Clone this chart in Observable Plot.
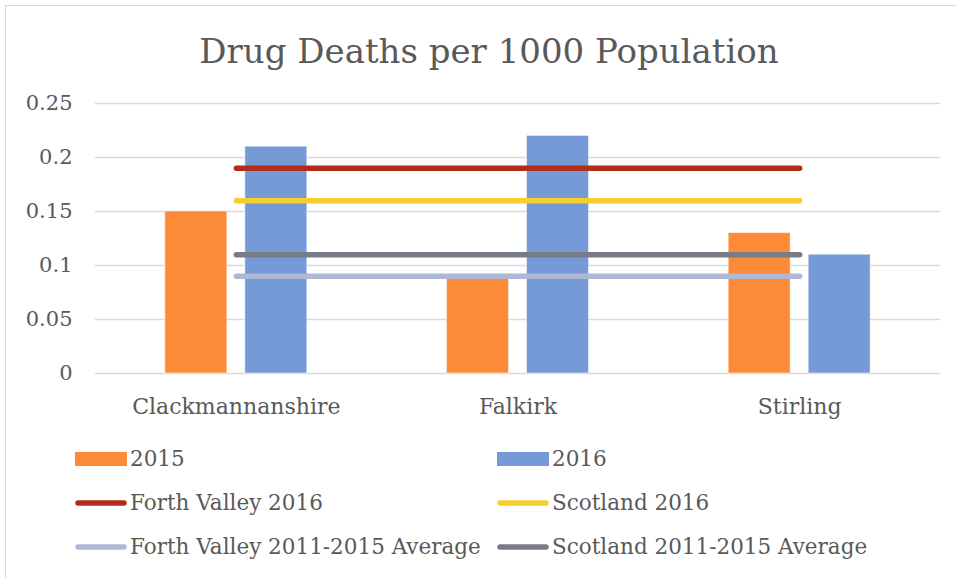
<!DOCTYPE html>
<html>
<head>
<meta charset="utf-8">
<script src="https://cdn.jsdelivr.net/npm/d3@7"></script>
<script src="https://cdn.jsdelivr.net/npm/@observablehq/plot@0.6"></script>
<style>
  body { margin: 0; background: #fff; }
  #chart { position: relative; width: 956px; height: 578px; overflow: hidden;
           font-family: "DejaVu Serif", serif; color: #595959; background: #fff; }
  #frame { position: absolute; left: 5px; top: 5px; width: 1000px; height: 1000px;
           border: 1px solid #d9d9d9; }
  #title { position: absolute; left: 0; width: 978px; top: 34px; line-height: 34px;
           text-align: center; font-size: 34px; }
  #plot { position: absolute; left: 0; top: 80px; }
  .legend-item { position: absolute; display: flex; align-items: center;
                 height: 24px; line-height: 24px; font-size: 21.5px; white-space: nowrap; }
  .legend-item svg { margin-right: 3px; }
</style>
</head>
<body>
<div id="chart">
  <div id="frame"></div>
  <div id="title">Drug Deaths per 1000 Population</div>
  <div id="plot"></div>
  <div id="legend"></div>
</div>
<script>
// Council areas and drug deaths per 1000 population
const categories = ["Clackmannanshire", "Falkirk", "Stirling"];
const years = ["2015", "2016"];
const deaths2015 = [0.15, 0.09, 0.13];
const deaths2016 = [0.21, 0.22, 0.11];

// Comparison benchmarks drawn as horizontal lines
const benchmarkNames = [
  "Forth Valley 2016",
  "Scotland 2016",
  "Forth Valley 2011-2015 Average",
  "Scotland 2011-2015 Average"
];
const benchmarkValues = [0.19, 0.16, 0.09, 0.11];

// Y axis ticks and their labels
const yTicks = [0, 0.05, 0.1, 0.15, 0.2, 0.25];
const yTickLabels = ["0", "0.05", "0.1", "0.15", "0.2", "0.25"];

// Series colours
const palette = {
  "2015": "#fd8a37",
  "2016": "#7699d7",
  "Forth Valley 2016": "#b12d1a",
  "Scotland 2016": "#f6ce2e",
  "Forth Valley 2011-2015 Average": "#adb8d5",
  "Scotland 2011-2015 Average": "#787c86"
};

// Bar layout within each category slot (in category units)
const barWidth = 0.22;
const barGap = 0.064;

const bars = categories.flatMap((c, i) => [
  { cat: i, year: "2015", value: deaths2015[i] },
  { cat: i, year: "2016", value: deaths2016[i] }
]);
const barX1 = d => d.year === "2015" ? d.cat - barGap / 2 - barWidth : d.cat + barGap / 2;
const barX2 = d => d.year === "2015" ? d.cat - barGap / 2 : d.cat + barGap / 2 + barWidth;

const benchmarkPoints = benchmarkNames.flatMap((name, k) =>
  categories.map((c, i) => ({ series: name, cat: i, value: benchmarkValues[k] }))
);

const colorDomain = [...years, ...benchmarkNames];

const chart = Plot.plot({
  width: 956,
  height: 350,
  marginLeft: 95,
  marginRight: 16,
  marginTop: 23,
  marginBottom: 57,
  style: { fontFamily: "DejaVu Serif, serif", fontSize: "21px", color: "#595959", background: "transparent" },
  x: { type: "linear", domain: [-0.5, 2.5] },
  y: { domain: [0, 0.25] },
  color: { domain: colorDomain, range: colorDomain.map(k => palette[k]) },
  marks: [
    Plot.ruleY(yTicks, { stroke: "#d9d9d9", strokeWidth: 1.5 }),
    Plot.axisY({
      ticks: yTicks,
      tickFormat: v => yTickLabels[yTicks.indexOf(v)],
      tickSize: 0,
      tickPadding: 23,
      fontSize: 21,
      label: null
    }),
    Plot.axisX({
      ticks: categories.map((c, i) => i),
      tickFormat: i => categories[i],
      tickSize: 0,
      tickPadding: 25,
      fontSize: 22,
      label: null
    }),
    Plot.rectY(bars, {
      x1: barX1, x2: barX2, y: "value", fill: "year",
      stroke: "#ffffff", strokeOpacity: 0.5, strokeWidth: 1
    }),
    Plot.lineY(benchmarkPoints, {
      x: "cat", y: "value", z: "series", stroke: "series",
      strokeWidth: 5.5, strokeLinecap: "round"
    })
  ]
});
document.getElementById("plot").appendChild(chart);

// Legend: two columns, three rows
const legendEntries = [
  { name: "2015", kind: "bar" },
  { name: "2016", kind: "bar" },
  { name: "Forth Valley 2016", kind: "line" },
  { name: "Scotland 2016", kind: "line" },
  { name: "Forth Valley 2011-2015 Average", kind: "line" },
  { name: "Scotland 2011-2015 Average", kind: "line" }
];
const legendCols = [75, 497];
const legendRows = [459, 503, 547];
const legend = d3.select("#legend");
legendEntries.forEach((e, k) => {
  const item = legend.append("div")
    .attr("class", "legend-item")
    .style("left", legendCols[k % 2] + "px")
    .style("top", (legendRows[Math.floor(k / 2)] - 12) + "px");
  const sw = item.append("svg").attr("width", 52).attr("height", 24);
  if (e.kind === "bar") {
    sw.append("rect").attr("x", 0).attr("y", 5).attr("width", 52).attr("height", 14)
      .attr("fill", palette[e.name]);
  } else {
    sw.append("line").attr("x1", 3).attr("x2", 49).attr("y1", 12).attr("y2", 12)
      .attr("stroke", palette[e.name]).attr("stroke-width", 5.5).attr("stroke-linecap", "round");
  }
  item.append("span").text(e.name);
});
</script>
</body>
</html>
